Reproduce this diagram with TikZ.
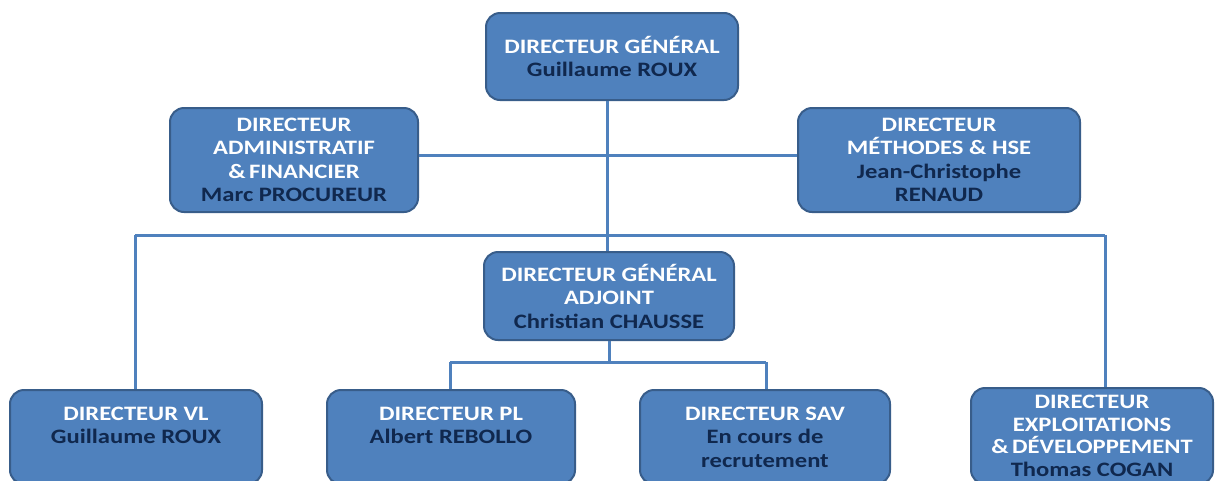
\documentclass[tikz,border=0pt]{standalone}
\usepackage{fontspec}
\setmainfont{Carlito}
\newfontfamily\boxfont[FakeStretch=1.2]{Carlito}
\definecolor{boxfill}{HTML}{4F81BD}
\definecolor{boxline}{HTML}{385D8A}
\definecolor{linkcol}{HTML}{4F81BD}
\definecolor{namecol}{HTML}{10284E}
\tikzset{
  orgbox/.style={draw=boxline, line width=2pt, fill=boxfill, rounded corners=14pt,
    align=center, inner sep=0pt, font=\boxfont\fontsize{20.5}{23.5}\selectfont\bfseries, text=white},
  link/.style={draw=linkcol, line width=3pt},
}
\newcommand{\nm}[1]{\textcolor{namecol}{#1}}
\begin{document}
\begin{tikzpicture}[x=1pt,y=-1pt]
\clip (0,0) rectangle (1217,480);
\fill[white] (0,0) rectangle (1217,480);
\coordinate (jtop) at (607,235);
\coordinate (jl) at (135,235);
\coordinate (jr) at (1105,235);
\coordinate (jmid) at (609,362);
\coordinate (jpl) at (450,362);
\coordinate (jsav) at (766,362);
\coordinate (hy) at (0,155);

\node[orgbox, minimum width=252pt, minimum height=87pt] (dg) at (612,56.5)
  {DIRECTEUR GÉNÉRAL\\\nm{Guillaume ROUX}};
\node[orgbox, minimum width=248pt, minimum height=104pt] (daf) at (294,160)
  {DIRECTEUR\\ADMINISTRATIF\\\&\,FINANCIER\\\nm{Marc PROCUREUR}};
\node[orgbox, minimum width=282pt, minimum height=104pt] (dmh) at (939,160)
  {DIRECTEUR\\MÉTHODES \& HSE\\\nm{Jean-Christophe}\\\nm{RENAUD}};
\node[orgbox, minimum width=250pt, minimum height=88pt] (dga) at (609,296)
  {DIRECTEUR GÉNÉRAL\\ADJOINT\\\nm{Christian CHAUSSE}};
\node[orgbox, minimum width=252pt, minimum height=94pt] (vl) at (136,437)
  {DIRECTEUR VL\\\nm{Guillaume ROUX}\\~};
\node[orgbox, minimum width=248pt, minimum height=94pt] (pl) at (451,437)
  {DIRECTEUR PL\\\nm{Albert REBOLLO}\\~};
\node[orgbox, minimum width=250pt, minimum height=94pt] (sav) at (765,437)
  {DIRECTEUR SAV\\\nm{En cours de}\\\nm{recrutement}};
\node[orgbox, minimum width=242pt, minimum height=96pt,
  font=\boxfont\fontsize{20.5}{22.5}\selectfont\bfseries] (ded) at (1092,436)
  {DIRECTEUR\\EXPLOITATIONS\\\&\,DÉVELOPPEMENT\\\nm{Thomas COGAN}};

\draw[link] (dg.south -| jtop) -- (dga.north -| jtop);
\draw[link] (daf.east |- hy) -- (dmh.west |- hy);
\draw[link] (jl) -- (jr);
\draw[link] (jl) -- (vl.north -| jl);
\draw[link] (jr) -- (ded.north -| jr);
\draw[link] (dga.south -| jmid) -- (jmid);
\draw[link] (jpl) -- (jsav);
\draw[link] (jpl) -- (pl.north -| jpl);
\draw[link] (jsav) -- (sav.north -| jsav);
\end{tikzpicture}
\end{document}
